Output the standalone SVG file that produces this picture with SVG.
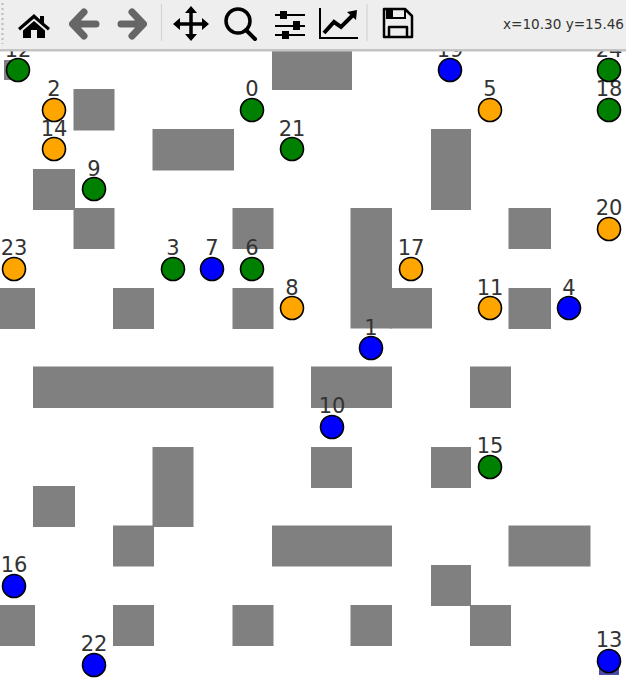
<svg xmlns="http://www.w3.org/2000/svg" width="626" height="698" viewBox="0 0 626 698">
<style>
.o{fill:#808080}
.n{stroke:#000;stroke-width:1.6}
.g{fill:#008000}.b{fill:#0000ff}.y{fill:#ffa500}
.l{font:21px "DejaVu Sans",sans-serif;fill:#333;text-anchor:middle}
.ic{fill:#000}.gr{fill:#666}
</style>
<rect width="626" height="698" fill="#fff"/>
<g id="obstacles">
<rect class="o" x="272" y="50" width="80" height="40"/>
<rect class="o" x="73.500" y="89" width="41" height="41.500"/>
<rect class="o" x="152.500" y="129" width="81.500" height="41.500"/>
<rect class="o" x="431" y="129" width="40" height="81"/>
<rect class="o" x="33" y="169" width="42" height="41"/>
<rect class="o" x="73.500" y="208" width="41" height="41"/>
<rect class="o" x="232.500" y="208" width="41" height="41"/>
<rect class="o" x="350.500" y="208" width="41.500" height="120.500"/>
<rect class="o" x="390" y="288" width="42" height="40.500"/>
<rect class="o" x="508.500" y="208" width="42.500" height="41"/>
<rect class="o" x="0" y="288" width="35" height="41"/>
<rect class="o" x="113" y="288" width="41" height="41"/>
<rect class="o" x="232.500" y="288" width="41" height="41"/>
<rect class="o" x="508.500" y="288" width="42.500" height="41"/>
<rect class="o" x="33" y="366.500" width="240.500" height="41.500"/>
<rect class="o" x="311" y="366.500" width="81" height="41.500"/>
<rect class="o" x="470" y="366.500" width="41" height="41.500"/>
<rect class="o" x="311" y="447" width="41" height="41"/>
<rect class="o" x="431" y="447" width="40" height="41"/>
<rect class="o" x="152.500" y="447" width="41" height="80"/>
<rect class="o" x="33" y="486" width="42" height="41"/>
<rect class="o" x="113" y="525.500" width="41" height="41"/>
<rect class="o" x="272" y="525.500" width="120" height="41"/>
<rect class="o" x="508.500" y="525.500" width="82" height="41"/>
<rect class="o" x="431" y="565" width="40" height="41"/>
<rect class="o" x="0" y="605" width="35" height="41"/>
<rect class="o" x="113" y="605" width="41" height="41"/>
<rect class="o" x="232.500" y="605" width="41" height="41"/>
<rect class="o" x="350.500" y="605" width="41.500" height="41"/>
<rect class="o" x="470" y="605" width="41" height="41"/>
<rect class="o" x="4" y="60" width="14" height="20"/>
<rect x="599" y="660" width="20" height="15" fill="#4a4aa8"/>
</g>
<g id="connectors"></g>
<g id="n0"><circle class="n g" cx="252" cy="110" r="11.500"/><text class="l" x="252" y="96">0</text></g>
<g id="n1"><circle class="n b" cx="371" cy="348" r="11.500"/><text class="l" x="371" y="335">1</text></g>
<g id="n2"><circle class="n y" cx="54" cy="110" r="11.500"/><text class="l" x="54" y="96">2</text></g>
<g id="n3"><circle class="n g" cx="173" cy="269" r="11.500"/><text class="l" x="173" y="255">3</text></g>
<g id="n4"><circle class="n b" cx="569" cy="308" r="11.500"/><text class="l" x="569" y="295">4</text></g>
<g id="n5"><circle class="n y" cx="490" cy="110" r="11.500"/><text class="l" x="490" y="96">5</text></g>
<g id="n6"><circle class="n g" cx="252" cy="269" r="11.500"/><text class="l" x="252" y="255">6</text></g>
<g id="n7"><circle class="n b" cx="212" cy="269" r="11.500"/><text class="l" x="212" y="255">7</text></g>
<g id="n8"><circle class="n y" cx="292" cy="308" r="11.500"/><text class="l" x="292" y="295">8</text></g>
<g id="n9"><circle class="n g" cx="94" cy="189" r="11.500"/><text class="l" x="94" y="176">9</text></g>
<g id="n10"><circle class="n b" cx="332" cy="427" r="11.500"/><text class="l" x="332" y="413">10</text></g>
<g id="n11"><circle class="n y" cx="490" cy="308" r="11.500"/><text class="l" x="490" y="295">11</text></g>
<g id="n12"><circle class="n g" cx="18" cy="70" r="11.500"/><text class="l" x="18" y="57">12</text></g>
<g id="n13"><circle class="n b" cx="609" cy="661" r="11.500"/><text class="l" x="609" y="647">13</text></g>
<g id="n14"><circle class="n y" cx="54" cy="149" r="11.500"/><text class="l" x="54" y="136">14</text></g>
<g id="n15"><circle class="n g" cx="490" cy="467" r="11.500"/><text class="l" x="490" y="453">15</text></g>
<g id="n16"><circle class="n b" cx="14" cy="586" r="11.500"/><text class="l" x="14" y="572">16</text></g>
<g id="n17"><circle class="n y" cx="411" cy="269" r="11.500"/><text class="l" x="411" y="255">17</text></g>
<g id="n18"><circle class="n g" cx="609" cy="110" r="11.500"/><text class="l" x="609" y="96">18</text></g>
<g id="n19"><circle class="n b" cx="450" cy="70" r="11.500"/><text class="l" x="450" y="57">19</text></g>
<g id="n20"><circle class="n y" cx="609" cy="229" r="11.500"/><text class="l" x="609" y="215">20</text></g>
<g id="n21"><circle class="n g" cx="292" cy="149" r="11.500"/><text class="l" x="292" y="136">21</text></g>
<g id="n22"><circle class="n b" cx="94" cy="665" r="11.500"/><text class="l" x="94" y="651">22</text></g>
<g id="n23"><circle class="n y" cx="14" cy="269" r="11.500"/><text class="l" x="14" y="255">23</text></g>
<g id="n24"><circle class="n g" cx="609" cy="70" r="11.500"/><text class="l" x="609" y="57">24</text></g>
<g id="toolbar">
<rect width="626" height="50" fill="#eeeeee"/>
<rect y="49" width="626" height="2.500" fill="#c4c4c4"/>
<line x1="2.500" y1="3" x2="2.500" y2="44" stroke="#bbb" stroke-width="2" stroke-dasharray="2 3"/>
<line x1="161.500" y1="4" x2="161.500" y2="41" stroke="#d4d4d4" stroke-width="1.200"/>
<line x1="367" y1="4" x2="367" y2="41" stroke="#d4d4d4" stroke-width="1.200"/>
<path class="ic" d="M34 14 L18 28 L20 30.500 L34 18.500 L48 30.500 L50 28 L44 23 L44 16 L40 16 L40 19.500Z M34 21 L23 30.500 L23 38 L31 38 L31 30 L37 30 L37 38 L45 38 L45 30.500Z"/>
<path fill="none" stroke="#666" stroke-width="7" stroke-linejoin="round" stroke-linecap="round" d="M96 24 L75 24 M84 12 L72.500 24 L84 36"/>
<path fill="none" stroke="#666" stroke-width="7" stroke-linejoin="round" stroke-linecap="round" d="M121 24 L142 24 M132 12 L143.500 24 L132 36"/>
<path fill="none" stroke="#000" stroke-width="3.500" d="M176 24 L206 24 M191 9 L191 39"/>
<path class="ic" d="M191 6 L197 13 L185 13Z M191 41 L197 34 L185 34Z M173 24 L180 18 L180 30Z M209 24 L202 18 L202 30Z"/>
<circle cx="238" cy="21" r="12" fill="none" stroke="#000" stroke-width="3.500"/>
<line x1="246" y1="30" x2="255" y2="39" stroke="#000" stroke-width="4" stroke-linecap="round"/>
<path stroke="#000" stroke-width="2" fill="none" d="M275 15 L305 15 M275 26 L305 26 M275 35 L305 35"/>
<path class="ic" d="M280 11 h7 v8 h-7z M293 21 h7 v9 h-7z M282 31 h7 v8 h-7z"/>
<path fill="none" stroke="#000" stroke-width="2" d="M320 8 L320 38 L358 38"/>
<path fill="none" stroke="#000" stroke-width="4" d="M324 33 L334 22 L341 27 L354 14"/>
<path class="ic" d="M347 12 L357 10 L356 20Z"/>
<path fill="none" stroke="#000" stroke-width="2.500" stroke-linejoin="round" d="M384 9 H405 L412 16 V37 H384Z M389 37 V27 H407 V37"/>
<path class="ic" d="M386 9 H392 V19 H386Z"/>
<path fill="none" stroke="#000" stroke-width="2" d="M392 10 V18 H405 V10"/>
<text x="503" y="29" style="font:13.600px 'DejaVu Sans',sans-serif;fill:#333">x=10.30 y=15.46</text>
</g>
</svg>
